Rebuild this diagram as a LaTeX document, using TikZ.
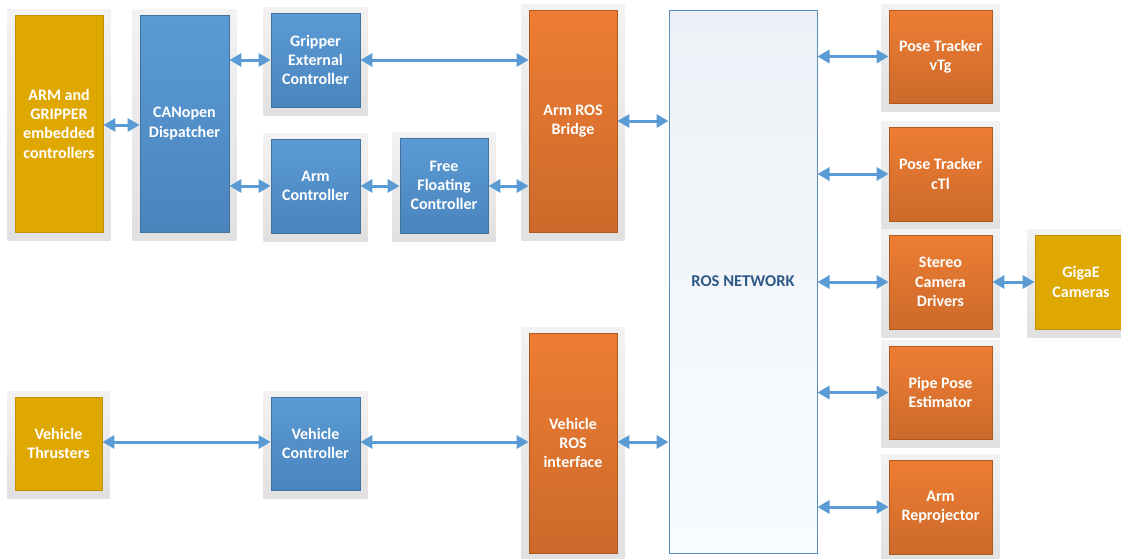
\documentclass[tikz,border=0pt]{standalone}
\usepackage{fontspec}
\setmainfont{Carlito}
\usepackage{tikz}
\usetikzlibrary{arrows.meta,backgrounds,calc}

\definecolor{bluetop}{HTML}{5B9BD5}
\definecolor{bluebot}{HTML}{4A84BD}
\definecolor{blueedge}{HTML}{41719C}
\definecolor{orangetop}{HTML}{EE7D33}
\definecolor{orangebot}{HTML}{CC6A2B}
\definecolor{orangeedge}{HTML}{B0591F}
\definecolor{goldfill}{HTML}{DFA800}
\definecolor{goldedge}{HTML}{BF9000}
\definecolor{nettop}{HTML}{ECF1F7}
\definecolor{netbot}{HTML}{F9FCFE}
\definecolor{netedge}{HTML}{5A8CBE}
\definecolor{nettext}{HTML}{2F5A87}
\definecolor{linkblue}{HTML}{5B9BD5}

\tikzset{
	block/.style={draw, line width=0.8pt, text=white, align=center, inner sep=2pt,
		font=\bfseries\fontsize{16}{19.3}\selectfont},
	blueblock/.style={block, draw=blueedge, top color=bluetop, bottom color=bluebot},
	orangeblock/.style={block, draw=orangeedge, top color=orangetop, bottom color=orangebot},
	goldblock/.style={block, draw=goldedge, fill=goldfill},
	netblock/.style={draw=netedge, line width=1pt, top color=nettop, bottom color=netbot,
		text=nettext, font=\bfseries\fontsize{16.5}{19.3}\selectfont},
	link/.style={draw=linkblue, line width=3pt,
		{Triangle[length=12pt,width=13pt]}-{Triangle[length=12pt,width=13pt]}},
	backdrop/.style={top color=black!5, bottom color=black!12, draw=none}
}

\begin{document}
\begin{tikzpicture}[x=1pt, y=-1pt]
	\useasboundingbox (0,0) rectangle (1121,558);
	% arm side
	\node[goldblock, minimum width=88pt, minimum height=217pt] (armgrip)	at (59, 123.5)	{ARM and\\GRIPPER\\embedded\\controllers};
	\node[blueblock, minimum width=89pt, minimum height=217pt] (canopen)	at (184.5, 123.5)	{CANopen\\Dispatcher};
	\node[blueblock, minimum width=89pt, minimum height=94pt] (gripctrl)	at (315.5, 60)	{Gripper\\External\\Controller};
	\node[blueblock, minimum width=89pt, minimum height=94pt] (armctrl)	at (315.5, 186)	{Arm\\Controller};
	\node[blueblock, minimum width=88pt, minimum height=95pt] (freefloat)	at (444, 185.5)	{Free\\Floating\\Controller};
	\node[orangeblock, minimum width=88pt, minimum height=222pt] (armbridge)	at (573, 121)	{Arm ROS\\Bridge};
	% vehicle side
	\node[goldblock, minimum width=87pt, minimum height=93pt] (thrusters)	at (58.5, 443.5)	{Vehicle\\Thrusters};
	\node[blueblock, minimum width=89pt, minimum height=93pt] (vehctrl)	at (315.5, 443.5)	{Vehicle\\Controller};
	\node[orangeblock, minimum width=88pt, minimum height=220pt] (vehros)	at (573, 443)	{Vehicle\\ROS\\interface};
	% network and perception
	\node[netblock, minimum width=148pt, minimum height=543pt] (rosnet)	at (743, 281.5)	{ROS NETWORK};
	\node[orangeblock, minimum width=103pt, minimum height=93pt] (posevtg)	at (940.5, 56.5)	{Pose Tracker\\vTg};
	\node[orangeblock, minimum width=103pt, minimum height=94pt] (posectl)	at (940.5, 174)	{Pose Tracker\\cTl};
	\node[orangeblock, minimum width=103pt, minimum height=94pt] (stereo)	at (940.5, 282)	{Stereo\\Camera\\Drivers};
	\node[orangeblock, minimum width=103pt, minimum height=93pt] (pipepose)	at (940.5, 392.5)	{Pipe Pose\\Estimator};
	\node[orangeblock, minimum width=103pt, minimum height=94pt] (reproj)	at (940.5, 507)	{Arm\\Reprojector};
	\node[goldblock, minimum width=92pt, minimum height=94pt] (gigae)	at (1081, 282)	{GigaE\\Cameras};
	% soft backdrops
	\begin{scope}[on background layer]
		\foreach \n in {armgrip, canopen, gripctrl, armctrl, freefloat, armbridge,
			thrusters, vehctrl, vehros, posevtg, posectl, stereo, pipepose, reproj, gigae}
			\path[backdrop] ($(\n.south west)+(-7pt,-8pt)$) rectangle ($(\n.north east)+(7pt,5pt)$);
	\end{scope}
	% links
	\draw[link] (armgrip.east |- 0,125) -- (canopen.west |- 0,125);
	\draw[link] (canopen.east |- gripctrl) -- (gripctrl.west);
	\draw[link] (canopen.east |- armctrl) -- (armctrl.west);
	\draw[link] (gripctrl.east) -- (armbridge.west |- gripctrl);
	\draw[link] (armctrl.east) -- (freefloat.west |- armctrl);
	\draw[link] (freefloat.east |- armctrl) -- (armbridge.west |- armctrl);
	\draw[link] (armbridge.east) -- (rosnet.west |- armbridge);
	\draw[link] (thrusters.east |- 0,442) -- (vehctrl.west |- 0,442);
	\draw[link] (vehctrl.east |- 0,442) -- (vehros.west |- 0,442);
	\draw[link] (vehros.east |- 0,442) -- (rosnet.west |- 0,442);
	\draw[link] (rosnet.east |- posevtg) -- (posevtg.west);
	\draw[link] (rosnet.east |- posectl) -- (posectl.west);
	\draw[link] (rosnet.east |- stereo) -- (stereo.west);
	\draw[link] (stereo.east) -- (gigae.west);
	\draw[link] (rosnet.east |- pipepose) -- (pipepose.west);
	\draw[link] (rosnet.east |- reproj) -- (reproj.west);
\end{tikzpicture}
\end{document}
